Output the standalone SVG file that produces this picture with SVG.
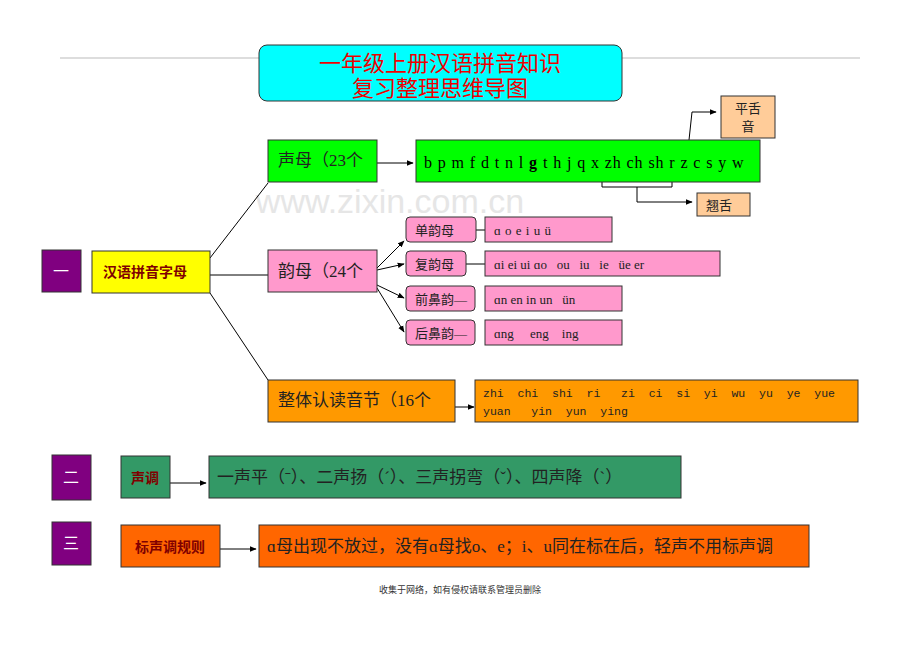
<svg xmlns="http://www.w3.org/2000/svg" width="920" height="651" viewBox="0 0 920 651">
<defs>
<marker id="ah" viewBox="0 0 10 10" refX="9" refY="5" markerWidth="7" markerHeight="7" orient="auto"><path d="M0,1 L10,5 L0,9 z" fill="#000"/></marker>
<style>
.s{font-family:"Liberation Serif","Noto Sans CJK SC",serif;fill:#222}
.b{stroke:#333;stroke-width:1}
.l{stroke:#000;stroke-width:1;fill:none}
</style>
</defs>
<rect width="920" height="651" fill="#fff"/>
<line x1="60" y1="58" x2="860" y2="58" stroke="#bbb"/>
<text x="390" y="213" font-family="Liberation Sans,sans-serif" font-size="34" fill="#e6e6e6" text-anchor="middle">www.zixin.com.cn</text>
<g id="title"><rect x="259" y="45" width="363" height="56" rx="8" fill="#00ffff" class="b"/>
<text x="440" y="71" class="s" font-size="22" style="fill:#e00" text-anchor="middle">一年级上册汉语拼音知识</text>
<text x="440" y="96" class="s" font-size="22" style="fill:#e00" text-anchor="middle">复习整理思维导图</text></g>
<g id="connectors">
<line class="l" x1="210" y1="258" x2="268" y2="183"/>
<line class="l" x1="210" y1="275" x2="268" y2="275"/>
<line class="l" x1="210" y1="293" x2="268" y2="380"/>
<line class="l" x1="377" y1="163" x2="413" y2="163" marker-end="url(#ah)"/>
<line class="l" x1="377" y1="268" x2="404" y2="241" marker-end="url(#ah)"/>
<line class="l" x1="377" y1="270" x2="404" y2="264" marker-end="url(#ah)"/>
<line class="l" x1="377" y1="285" x2="404" y2="298" marker-end="url(#ah)"/>
<line class="l" x1="377" y1="288" x2="404" y2="332" marker-end="url(#ah)"/>
<line class="l" x1="476" y1="230" x2="485" y2="230"/>
<line class="l" x1="466" y1="264" x2="485" y2="264"/>
<line class="l" x1="455" y1="407" x2="474" y2="407" marker-end="url(#ah)"/>
<line class="l" x1="170" y1="483" x2="206" y2="483" marker-end="url(#ah)"/>
<line class="l" x1="220" y1="549" x2="256" y2="549" marker-end="url(#ah)"/>
<path class="l" d="M602,173 V187 H672 V173"/>
<path class="l" d="M637,187 V202 H692" marker-end="url(#ah)"/>
<path class="l" d="M673,152 Q672,142 685,142 Q697,140 698,150"/>
<path class="l" d="M689,150 V140 L692,112 H716" marker-end="url(#ah)"/>
<path class="l" d="M698,142 Q705,140 705,152"/>
</g>
<g id="n1"><rect x="42" y="250" width="39" height="42" fill="#800080" class="b"/><text x="61" y="277" class="s" font-size="16" style="fill:#fff" text-anchor="middle">一</text></g>
<g id="n2"><rect x="52" y="455" width="39" height="45" fill="#800080" class="b"/><text x="71" y="483" class="s" font-size="16" style="fill:#fff" text-anchor="middle">二</text></g>
<g id="n3"><rect x="52" y="522" width="39" height="43" fill="#800080" class="b"/><text x="71" y="549" class="s" font-size="16" style="fill:#fff" text-anchor="middle">三</text></g>
<g id="hanyu"><rect x="92" y="251" width="118" height="42" fill="#ffff00" class="b"/><text x="145" y="277" font-family="Noto Sans CJK SC,sans-serif" font-weight="bold" font-size="14" fill="#800000" text-anchor="middle">汉语拼音字母</text></g>
<g id="shengmu"><rect x="268" y="140" width="109" height="42" fill="#00ff00" class="b"/><text x="278" y="166" class="s" font-size="17">声母（23个</text></g>
<g id="shengmu-list"><rect x="416" y="140" width="344" height="42" fill="#00ff00" class="b"/><text x="424" y="168" class="s" font-size="16" style="fill:#000" letter-spacing="0.9">b p m f d t n l <tspan font-weight="bold">g</tspan> t h j q x zh ch sh r z c s y w</text></g>
<g id="pingshe"><rect x="721" y="96" width="54" height="42" fill="#ffcc99" class="b"/><text x="748" y="113" class="s" font-size="13" text-anchor="middle">平舌</text><text x="748" y="131" class="s" font-size="13" text-anchor="middle">音</text></g>
<g id="qiaoshe"><rect x="697" y="193" width="53" height="23" fill="#ffcc99" class="b"/><text x="706" y="210" class="s" font-size="13">翘舌</text></g>
<g id="yunmu"><rect x="268" y="250" width="109" height="42" fill="#ff99cc" class="b"/><text x="278" y="277" class="s" font-size="17">韵母（24个</text></g>
<g id="dan"><rect x="406" y="217" width="70" height="25" rx="4" fill="#ff99cc" class="b"/><text x="415" y="235" class="s" font-size="13">单韵母</text></g>
<g id="dan-l"><rect x="485" y="217" width="127" height="25" fill="#ff99cc" class="b"/><text x="494" y="235" class="s" font-size="13" letter-spacing="0.5">ɑ o e i u ü</text></g>
<g id="fu"><rect x="406" y="251" width="60" height="25" rx="4" fill="#ff99cc" class="b"/><text x="415" y="269" class="s" font-size="13">复韵母</text></g>
<g id="fu-l"><rect x="485" y="251" width="235" height="25" fill="#ff99cc" class="b"/><text x="494" y="269" class="s" font-size="13" xml:space="preserve">ɑi ei ui ɑo   ou   iu   ie   üe er</text></g>
<g id="qian"><rect x="406" y="286" width="69" height="25" rx="4" fill="#ff99cc" class="b"/><text x="415" y="304" class="s" font-size="13">前鼻韵—</text></g>
<g id="qian-l"><rect x="485" y="286" width="137" height="25" fill="#ff99cc" class="b"/><text x="494" y="304" class="s" font-size="13" xml:space="preserve">ɑn en in un   ün</text></g>
<g id="hou"><rect x="406" y="320" width="69" height="25" rx="4" fill="#ff99cc" class="b"/><text x="415" y="338" class="s" font-size="13">后鼻韵—</text></g>
<g id="hou-l"><rect x="485" y="320" width="137" height="25" fill="#ff99cc" class="b"/><text x="494" y="338" class="s" font-size="13" xml:space="preserve">ɑng     eng    ing</text></g>
<g id="zhengti"><rect x="268" y="380" width="187" height="42" fill="#ff9900" class="b"/><text x="278" y="406" class="s" font-size="17">整体认读音节（16个</text></g>
<g id="zhengti-l"><rect x="475" y="380" width="383" height="42" fill="#ff9900" class="b"/><text x="483" y="397" font-family="Liberation Mono,monospace" font-size="11.5" fill="#222" xml:space="preserve">zhi  chi  shi  ri   zi  ci  si  yi  wu  yu  ye  yue</text><text x="483" y="415" font-family="Liberation Mono,monospace" font-size="11.5" fill="#222" xml:space="preserve">yuan   yin  yun  ying</text></g>
<g id="shengdiao"><rect x="121" y="456" width="49" height="42" fill="#339966" class="b"/><text x="145" y="483" font-family="Noto Sans CJK SC,sans-serif" font-weight="bold" font-size="14" fill="#800000" text-anchor="middle">声调</text></g>
<g id="shengdiao-l"><rect x="209" y="456" width="472" height="42" fill="#339966" class="b"/><text x="217" y="483" class="s" font-size="17">一声平（ˉ）、二声扬（ˊ）、三声拐弯（ˇ）、四声降（ˋ）</text></g>
<g id="biao"><rect x="121" y="525" width="99" height="42" fill="#ff6600" class="b"/><text x="170" y="552" font-family="Noto Sans CJK SC,sans-serif" font-weight="bold" font-size="14" fill="#800000" text-anchor="middle">标声调规则</text></g>
<g id="biao-l"><rect x="259" y="525" width="550" height="42" fill="#ff6600" class="b"/><text x="267" y="552" class="s" font-size="17">ɑ母出现不放过，没有ɑ母找o、e；i、u同在标在后，轻声不用标声调</text></g>
<text x="460" y="593" font-family="Noto Sans CJK SC,sans-serif" font-size="9" fill="#333" text-anchor="middle">收集于网络，如有侵权请联系管理员删除</text>
</svg>
